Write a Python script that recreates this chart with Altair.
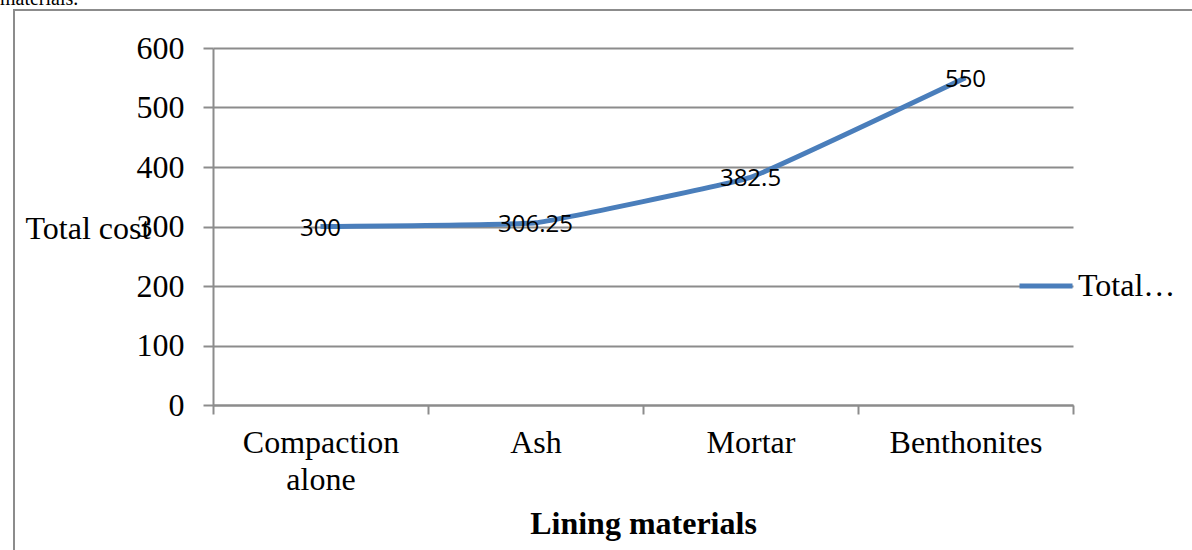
import altair as alt
import pandas as pd

materials = ["Compaction alone", "Ash", "Mortar", "Benthonites"]
costs = [300, 306.25, 382.5, 550]
series_name = "Total cost"
y_ticks = [0, 100, 200, 300, 400, 500, 600]

df = pd.DataFrame({"material": materials, "cost": costs, "series": [series_name] * len(materials)})

SERIF = "Liberation Serif"
GRID = "#8c8c8c"
BLUE = "#4a7ebb"

x_enc = alt.X(
    "material:N",
    sort=materials,
    scale=alt.Scale(type="band", paddingInner=0, paddingOuter=0),
    axis=alt.Axis(
        title="Lining materials",
        titleFont=SERIF, titleFontSize=32, titleFontWeight="bold", titleColor="black",
        titleY=118, titleBaseline="middle",
        labelFont=SERIF, labelFontSize=32, labelColor="black", labelAngle=0,
        labelPadding=13, labelLineHeight=37, labelBaseline="top",
        labelExpr="datum.label == 'Compaction alone' ? split(datum.label, ' ') : datum.label",
        tickBand="extent", tickSize=9, tickColor=GRID, tickWidth=2,
        domainColor=GRID, domainWidth=2, grid=False,
    ),
)
y_enc = alt.Y(
    "cost:Q",
    scale=alt.Scale(domain=[0, 600], nice=False),
    axis=alt.Axis(
        values=y_ticks, title="Total cost",
        titleFont=SERIF, titleFontSize=32, titleFontWeight="normal", titleColor="black",
        titleAngle=0, titleAlign="left", titleBaseline="middle", titleX=-188, titleY=180,
        labelFont=SERIF, labelFontSize=32, labelColor="black", labelPadding=19,
        tickSize=10, tickColor=GRID, tickWidth=2,
        domainColor=GRID, domainWidth=2,
        grid=True, gridColor=GRID, gridWidth=2,
    ),
)

line = alt.Chart(df).mark_line(
    strokeWidth=5, interpolate="cardinal", tension=0.75, strokeJoin="round"
).encode(
    x=x_enc,
    y=y_enc,
    color=alt.Color(
        "series:N",
        scale=alt.Scale(range=[BLUE]),
        legend=alt.Legend(
            title=None, orient="none", legendX=804, legendY=209,
            symbolType="stroke", symbolSize=2809, symbolStrokeWidth=5,
            labelFont=SERIF, labelFontSize=32, labelColor="black", labelLimit=100,
            labelOffset=3, padding=0,
        ),
    ),
)

labels = alt.Chart(df).mark_text(
    font="Open Sans", fontSize=24, color="black", align="center", baseline="middle", dy=2
).encode(
    x=alt.X("material:N", sort=materials),
    y=alt.Y("cost:Q"),
    text=alt.Text("cost:Q", format=".6~g"),
)

deco = alt.Data(values=[{"k": 0}])
border = alt.Chart(deco).mark_rect(fill=None, stroke=GRID, strokeWidth=2).encode(
    x=alt.value(-199), y=alt.value(-38), x2=alt.value(1200), y2=alt.value(600)
)
caption = alt.Chart(deco).mark_text(
    text="materials.", font=SERIF, fontSize=20, color="black", align="left", baseline="alphabetic"
).encode(x=alt.value(-213), y=alt.value(-43))

chart = alt.layer(border, caption, line, labels).properties(
    width=860, height=357,
    padding={"left": 213, "top": 48, "right": 119, "bottom": 145},
    autosize=alt.AutoSizeParams(type="none"),
).configure(background="white").configure_view(stroke=None)

chart.save("out.html", embed_options={"renderer": "svg", "actions": False})
